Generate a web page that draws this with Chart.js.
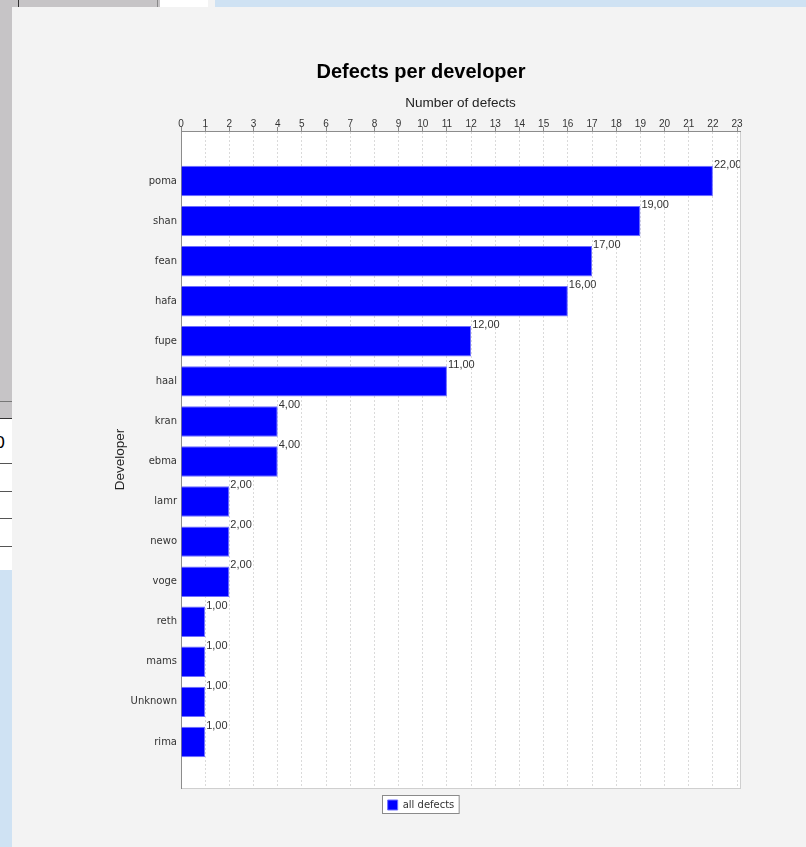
<!DOCTYPE html>
<html>
<head>
<meta charset="utf-8">
<script src="https://cdn.jsdelivr.net/npm/chart.js@4.4.1/dist/chart.umd.min.js"></script>
<style>
  body { margin: 0; width: 806px; height: 847px; overflow: hidden; position: relative; background: #f3f3f3; }
  .b { position: absolute; }
  #wrap { position: absolute; left: 12px; top: 0; width: 818px; height: 847px; }
</style>
</head>
<body>
<!-- bits of the surrounding window -->
<div class="b" style="left:0;top:0;width:160px;height:7px;background:#c6c4c6"></div>
<div class="b" style="left:18px;top:0;width:1px;height:7px;background:#333"></div>
<div class="b" style="left:157px;top:0;width:1px;height:7px;background:#888"></div>
<div class="b" style="left:160px;top:0;width:48px;height:7px;background:#fff"></div>
<div class="b" style="left:215px;top:0;width:591px;height:7px;background:#cfe2f3"></div>
<div class="b" style="left:0;top:0;width:12px;height:419px;background:#c6c4c6"></div>
<div class="b" style="left:0;top:401px;width:12px;height:1px;background:#777"></div>
<div class="b" style="left:0;top:419px;width:12px;height:151px;background:#fff;overflow:hidden">
  <div class="b" style="left:-5px;top:14px;font:16px 'DejaVu Sans';color:#000">0</div>
</div>
<div class="b" style="left:0;top:418px;width:12px;height:1px;background:#333"></div>
<div class="b" style="left:0;top:463px;width:12px;height:1px;background:#555"></div>
<div class="b" style="left:0;top:491px;width:12px;height:1px;background:#555"></div>
<div class="b" style="left:0;top:518px;width:12px;height:1px;background:#555"></div>
<div class="b" style="left:0;top:546px;width:12px;height:1px;background:#555"></div>
<div class="b" style="left:0;top:570px;width:12px;height:277px;background:#cfe2f3"></div>

<div id="wrap"><canvas id="chart" width="818" height="847"></canvas></div>

<script>
// data
const developers = ['poma', 'shan', 'fean', 'hafa', 'fupe', 'haal', 'kran', 'ebma', 'lamr', 'newo', 'voge', 'reth', 'mams', 'Unknown', 'rima'];
const allDefects = [22, 19, 17, 16, 12, 11, 4, 4, 2, 2, 2, 1, 1, 1, 1];
const seriesName = 'all defects';
const xMin = 0;
const xMax = 23.12;   // axis runs a hair past the last tick (23)

// white plot background + light frame
const plotFrame = {
    id: 'plotFrame',
    beforeDraw: function (chart) {
        const a = chart.chartArea;
        const ctx = chart.ctx;
        ctx.save();
        ctx.fillStyle = '#ffffff';
        ctx.fillRect(a.left, a.top, a.right - a.left, a.bottom - a.top);
        ctx.strokeStyle = '#cfcfcf';
        ctx.lineWidth = 1;
        ctx.strokeRect(a.left + 0.5, a.top + 0.5, a.right - a.left, a.bottom - a.top);
        ctx.restore();
    }
};

// "22,00" style labels at the end of each bar
const barLabels = {
    id: 'barLabels',
    afterDatasetsDraw: function (chart) {
        const ctx = chart.ctx;
        const a = chart.chartArea;
        const meta = chart.getDatasetMeta(0);
        ctx.save();
        ctx.beginPath();
        ctx.rect(a.left, a.top, a.right - a.left, a.bottom - a.top);
        ctx.clip();
        ctx.font = "11px 'Liberation Sans'";
        ctx.fillStyle = '#333';
        ctx.textAlign = 'left';
        ctx.textBaseline = 'alphabetic';
        meta.data.forEach(function (bar, i) {
            const txt = allDefects[i].toFixed(2).replace('.', ',');
            ctx.fillText(txt, bar.x + 1, bar.y - bar.height / 2 + 2);
        });
        ctx.restore();
    }
};

// white box with grey frame behind the legend
const legendFrame = {
    id: 'legendFrame',
    beforeDraw: function (chart) {
        const lg = chart.legend;
        if (!lg || !lg.legendHitBoxes.length) return;
        const hb = lg.legendHitBoxes[0];
        chart.ctx.save();
        chart.ctx.fillStyle = '#fff';
        chart.ctx.fillRect(Math.round(hb.left) - 5, Math.round(hb.top) - 4, hb.width + 10, hb.height + 8);
        chart.ctx.restore();
    },
    afterDraw: function (chart) {
        const lg = chart.legend;
        if (!lg || !lg.legendHitBoxes.length) return;
        const hb = lg.legendHitBoxes[0];
        const ctx = chart.ctx;
        ctx.save();
        ctx.strokeStyle = '#8a8a8a';
        ctx.lineWidth = 1;
        ctx.strokeRect(Math.round(hb.left) - 5.5, Math.round(hb.top) - 4.5, hb.width + 10, hb.height + 8);
        ctx.restore();
    }
};

const ctx = document.getElementById('chart');
const chart = new Chart(ctx, {
    type: 'bar',
    data: {
        datasets: [{
            label: seriesName,
            data: allDefects.map(function (v, i) { return { x: v, y: i }; }),
            backgroundColor: '#0000ff',
            borderColor: '#6f6fff',
            borderWidth: 1,
            categoryPercentage: 1,
            barPercentage: 0.76
        }]
    },
    options: {
        responsive: false,
        animation: false,
        indexAxis: 'y',
        layout: {
            padding: { left: 90, right: 90, top: 0, bottom: 27 }
        },
        scales: {
            x: {
                type: 'linear',
                position: 'top',
                min: xMin,
                max: xMax,
                ticks: {
                    stepSize: 1,
                    includeBounds: false,
                    autoSkip: false,
                    maxRotation: 0,
                    padding: -3,
                    color: '#333',
                    font: { family: 'Liberation Sans', size: 10 },
                    callback: function (v) { return Number.isInteger(v) ? v : ''; }
                },
                grid: {
                    color: '#dadada',
                    tickColor: '#888',
                    tickLength: 4,
                    drawTicks: true
                },
                border: { display: true, color: '#8c8c8c', dash: [2, 2] },
                title: {
                    display: true,
                    text: 'Number of defects',
                    color: '#222',
                    padding: { top: -2, bottom: 0 },
                    font: { family: 'Liberation Sans', size: 13.5 }
                },
                afterFit: function (s) { s.height = 34; }
            },
            y: {
                type: 'linear',
                offset: false,
                reverse: true,
                min: -1.25,
                max: 15.15,
                ticks: {
                    stepSize: 1,
                    includeBounds: false,
                    autoSkip: false,
                    padding: 4,
                    color: '#333',
                    font: { family: 'DejaVu Sans', size: 10 },
                    callback: function (v) {
                        return (Number.isInteger(v) && v >= 0 && v < developers.length) ? developers[v] : '';
                    }
                },
                grid: { display: false, drawTicks: false },
                border: { display: true, color: '#8c8c8c' },
                title: {
                    display: true,
                    text: 'Developer',
                    color: '#222',
                    padding: { top: 10, bottom: 0 },
                    font: { family: 'Liberation Sans', size: 13.5 }
                },
                afterFit: function (s) { s.width = 79; }
            }
        },
        plugins: {
            title: {
                display: true,
                text: 'Defects per developer',
                color: '#000',
                padding: { top: 60, bottom: 13 },
                font: { family: 'Liberation Sans', size: 20, weight: 'bold' }
            },
            legend: {
                position: 'bottom',
                labels: {
                    boxWidth: 10,
                    boxHeight: 10,
                    padding: 12,
                    color: '#333',
                    font: { family: 'DejaVu Sans', size: 10 }
                }
            },
            tooltip: { enabled: false }
        }
    },
    plugins: [plotFrame, barLabels, legendFrame]
});
</script>
</body>
</html>
